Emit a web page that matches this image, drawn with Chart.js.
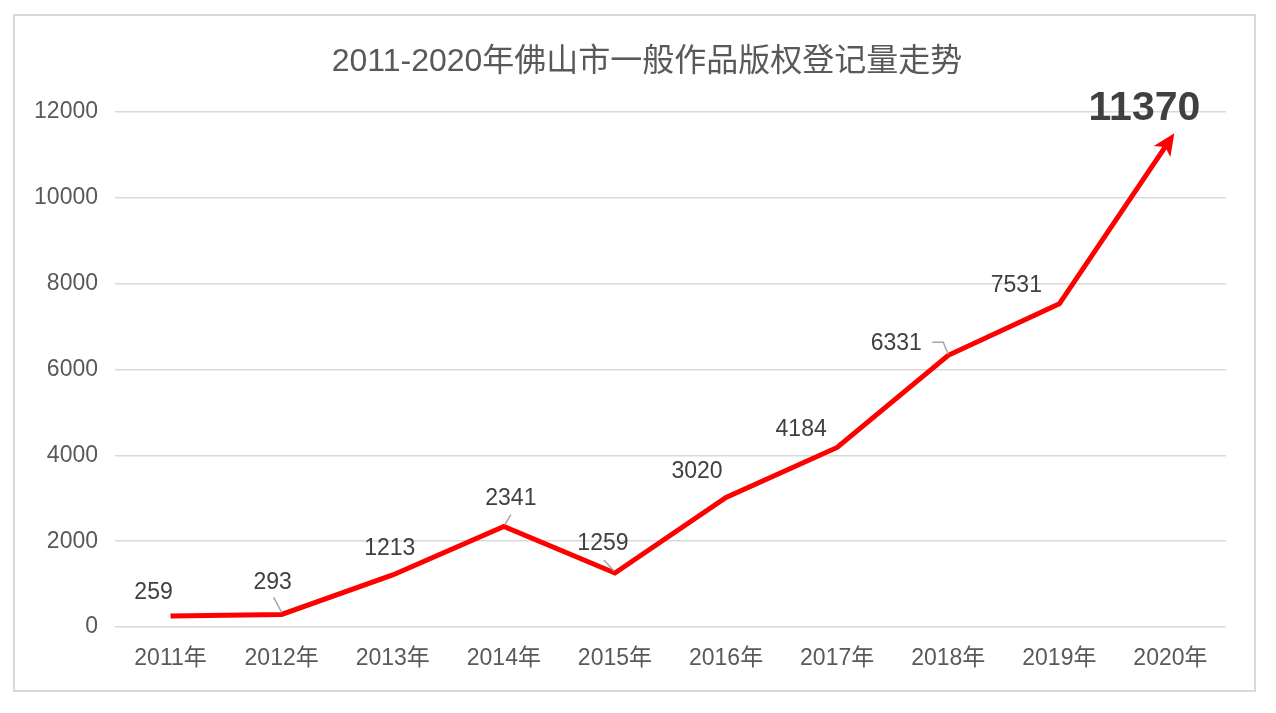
<!DOCTYPE html>
<html>
<head>
<meta charset="utf-8">
<script src="https://cdn.jsdelivr.net/npm/chart.js@4/dist/chart.umd.min.js"></script>
<style>
html,body{margin:0;padding:0;background:#fff;width:1276px;height:713px;overflow:hidden;}
#box{position:absolute;left:13px;top:14px;width:1243px;height:678px;border:2px solid #d9d9d9;box-sizing:border-box;}
canvas{display:block;}
</style>
</head>
<body>
<div id="box"><canvas id="c" width="1239" height="674"></canvas></div>
<script>
const categories = ["2011年","2012年","2013年","2014年","2015年","2016年","2017年","2018年","2019年","2020年"];
const values = [259, 293, 1213, 2341, 1259, 3020, 4184, 6331, 7531, 11370];
const yTicks = [0, 2000, 4000, 6000, 8000, 10000, 12000];
const titleText = "2011-2020年佛山市一般作品版权登记量走势";

const FONT = '"Liberation Sans", Arial, "Noto Sans CJK SC", sans-serif';

// label placement relative to point (dx, dy of text centre) and leader lines
const labelOffsets = [[-17,-23],[-9,-32],[-3,-26],[7,-28],[-12,-29],[-29,-26],[-36,-18],[-52,-12],[-43,-18],[-26,-30]];
const leaders = {
  1: [[-8,-17],[0,-2]],
  3: [[7,-12],[1,-2]],
  4: [[-11,-13],[-1,-2]],
  7: [[-16,-13],[-5,-13],[0,-1]]
};

const decor = {
  id: 'decor',
  afterDatasetsDraw(chart) {
    const ctx = chart.ctx;
    const meta = chart.getDatasetMeta(0);
    const pts = meta.data;
    ctx.save();
    // arrow head on last segment
    const a = pts[pts.length - 2], b = pts[pts.length - 1];
    const ang = Math.atan2(b.y - a.y, b.x - a.x);
    const tipX = b.x + Math.cos(ang) * 7, tipY = b.y + Math.sin(ang) * 7;
    const L = 22, W = 10;
    ctx.fillStyle = '#ff0000';
    ctx.beginPath();
    ctx.moveTo(tipX, tipY);
    ctx.lineTo(tipX - L*Math.cos(ang) + W*Math.sin(ang), tipY - L*Math.sin(ang) - W*Math.cos(ang));
    ctx.lineTo(tipX - L*0.75*Math.cos(ang), tipY - L*0.75*Math.sin(ang));
    ctx.lineTo(tipX - L*Math.cos(ang) - W*Math.sin(ang), tipY - L*Math.sin(ang) + W*Math.cos(ang));
    ctx.closePath();
    ctx.fill();
    // leader lines
    ctx.strokeStyle = '#a6a6a6';
    ctx.lineWidth = 1.5;
    Object.keys(leaders).forEach(k => {
      const p = pts[k];
      const seg = leaders[k];
      ctx.beginPath();
      seg.forEach((s, i) => {
        if (i === 0) ctx.moveTo(p.x + s[0], p.y + s[1]);
        else ctx.lineTo(p.x + s[0], p.y + s[1]);
      });
      ctx.stroke();
    });
    // labels
    ctx.textAlign = 'center';
    ctx.textBaseline = 'middle';
    pts.forEach((p, i) => {
      const off = labelOffsets[i];
      if (i === pts.length - 1) {
        ctx.font = 'bold 41px ' + FONT;
      } else {
        ctx.font = '23px ' + FONT;
      }
      ctx.fillStyle = '#404040';
      ctx.fillText(String(values[i]), p.x + off[0], p.y + off[1]);
    });
    // title
    ctx.font = '32px ' + FONT;
    ctx.fillStyle = '#595959';
    ctx.fillText(titleText, 632, 46);
    ctx.restore();
  }
};

new Chart(document.getElementById('c'), {
  type: 'line',
  data: {
    labels: categories,
    datasets: [{
      data: values,
      borderColor: '#ff0000',
      borderWidth: 5,
      pointRadius: 0,
      tension: 0,
      fill: false,
      borderJoinStyle: 'miter'
    }]
  },
  options: {
    responsive: false,
    animation: false,
    devicePixelRatio: 1,
    layout: { padding: { left: 0, right: 28, top: 96, bottom: 0 } },
    plugins: { legend: { display: false }, title: { display: false }, tooltip: { enabled: false } },
    scales: {
      x: {
        offset: true,
        grid: { display: false },
        border: { display: false },
        ticks: { color: '#595959', font: { size: 23, family: FONT }, padding: 10, maxRotation: 0 },
        afterFit(s) { s.height = 63; }
      },
      y: {
        min: 0, max: 12000,
        afterBuildTicks(s) { s.ticks = yTicks.map(v => ({ value: v })); },
        grid: { color: '#d9d9d9', lineWidth: 1.5, drawTicks: false },
        border: { display: false },
        ticks: { color: '#595959', font: { size: 23, family: FONT }, padding: 17, callback: v => String(v) },
        afterFit(s) { s.width = 100; }
      }
    }
  },
  plugins: [decor]
});
</script>
</body>
</html>
